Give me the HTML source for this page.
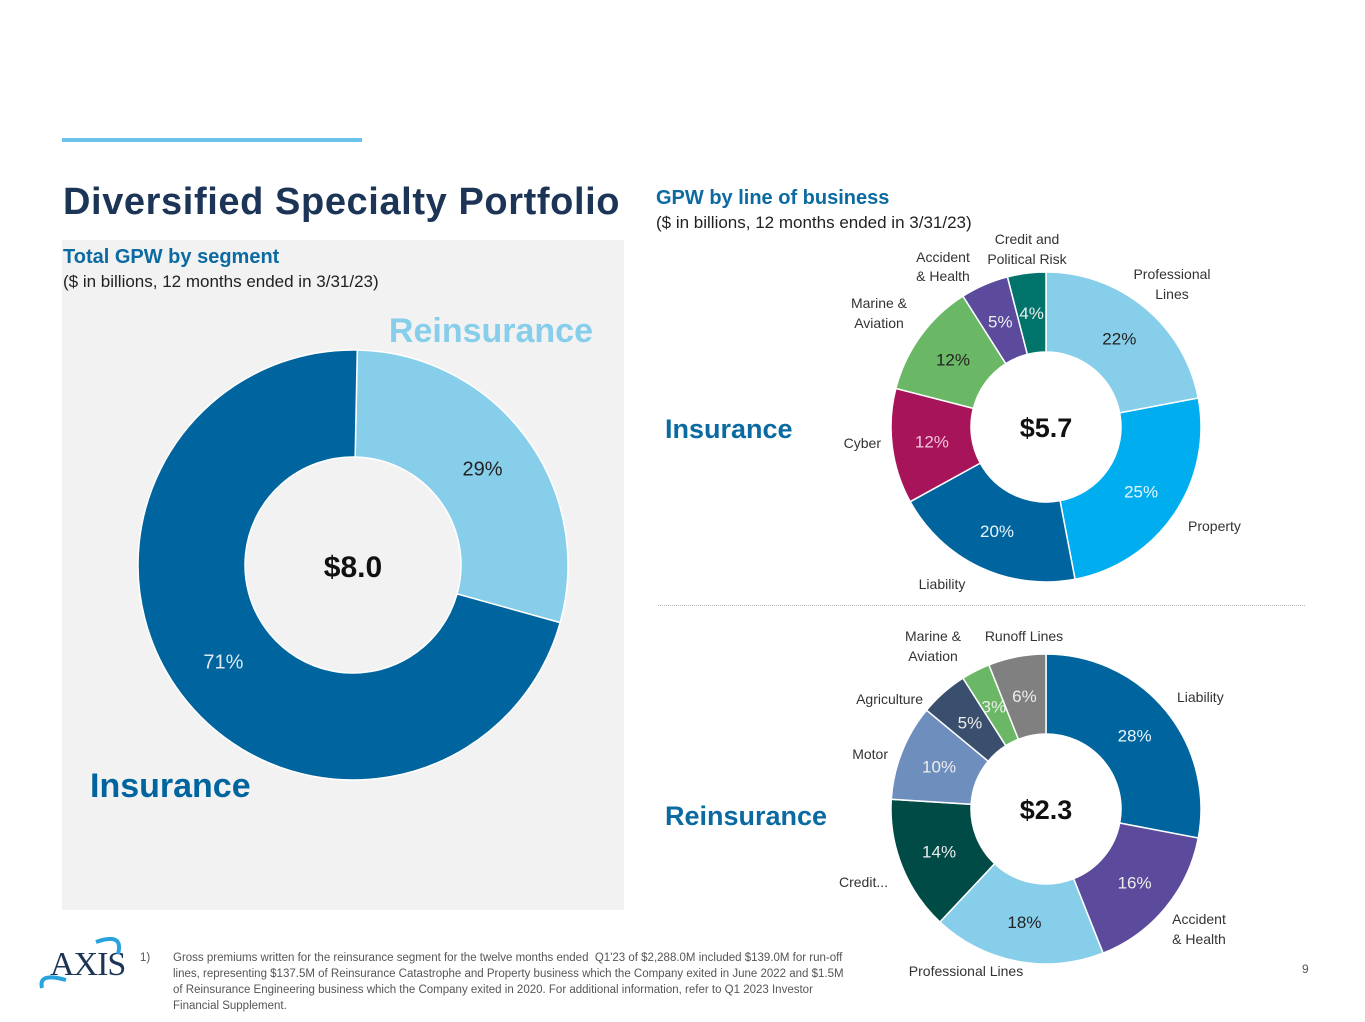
<!DOCTYPE html>
<html><head><meta charset="utf-8"><style>
body{margin:0;width:1365px;height:1022px;background:#fff;position:relative;overflow:hidden;font-family:"Liberation Sans",sans-serif}
.a{position:absolute;white-space:nowrap}
</style></head><body>
<div class="a" style="left:62px;top:138px;width:300px;height:4px;background:#6cc3ea"></div>
<div class="a" style="left:63px;top:181px;font-size:38px;font-weight:bold;color:#1c3557;letter-spacing:0.6px">Diversified Specialty Portfolio</div>
<div class="a" style="left:62px;top:240px;width:562px;height:670px;background:#f2f2f2"></div>
<div class="a" style="left:63px;top:246px;font-size:20px;font-weight:bold;color:#0a6aa1">Total GPW by segment</div>
<div class="a" style="left:63px;top:272px;font-size:17px;color:#222">($ in billions, 12 months ended in 3/31/23)</div>
<div class="a" style="left:656px;top:187px;font-size:20px;font-weight:bold;color:#0a6aa1">GPW by line of business</div>
<div class="a" style="left:656px;top:213px;font-size:17px;color:#222">($ in billions, 12 months ended in 3/31/23)</div>
<div class="a" style="left:658px;top:605px;width:647px;border-top:1px dotted #bbb"></div>
<svg class="a" style="left:0;top:0" width="1365" height="1022" id="svg"></svg>
<div class="a" style="left:140px;top:950px;font-size:11.5px;color:#555;line-height:16px">1)</div>
<div class="a" style="left:173px;top:950px;font-size:11.5px;color:#555;line-height:16px;white-space:normal;width:680px">Gross premiums written for the reinsurance segment for the twelve months ended &nbsp;Q1'23 of $2,288.0M included $139.0M for run-off lines, representing $137.5M of Reinsurance Catastrophe and Property business which the Company exited in June 2022 and $1.5M of Reinsurance Engineering business which the Company exited in 2020. For additional information, refer to Q1 2023 Investor Financial Supplement.</div>
<div class="a" style="left:1302px;top:962px;font-size:12px;color:#555">9</div>
<div class="a" style="left:50px;top:946px;font-family:'Liberation Serif',serif;font-size:34px;color:#1c3557;letter-spacing:-1px">AXIS</div>
<svg class="a" style="left:36px;top:932px" width="92" height="64"><path d="M6 56 Q2 40 30 48" stroke="#29a3dd" stroke-width="4" fill="none"/><path d="M60 10 Q88 0 82 22" stroke="#29a3dd" stroke-width="4" fill="none"/></svg>
<script>
const leftCats=["Reinsurance","Insurance"];
const leftVals=[29,71];
const insCats=["Professional Lines","Property","Liability","Cyber","Marine & Aviation","Accident & Health","Credit and Political Risk"];
const insVals=[22,25,20,12,12,5,4];
const reCats=["Liability","Accident & Health","Professional Lines","Credit...","Motor","Agriculture","Marine & Aviation","Runoff Lines"];
const reVals=[28,16,18,14,10,5,3,6];
const NS="http://www.w3.org/2000/svg";
const svg=document.getElementById('svg');
function el(t,a){const e=document.createElementNS(NS,t);for(const k in a)e.setAttribute(k,a[k]);svg.appendChild(e);return e;}
function donut(cx,cy,R,r,vals,cols,labCols,fs,name,start){
 const tot=vals.reduce((a,b)=>a+b,0);let a0=start||0;
 vals.forEach((v,i)=>{
  const a1=a0+v/tot*2*Math.PI;
  const p=(a,rr)=>[cx+rr*Math.sin(a),cy-rr*Math.cos(a)];
  const [x1,y1]=p(a0,R),[x2,y2]=p(a1,R),[x3,y3]=p(a1,r),[x4,y4]=p(a0,r);
  const lg=(a1-a0)>Math.PI?1:0;
  const path=el('path',{d:`M${x1},${y1}A${R},${R} 0 ${lg} 1 ${x2},${y2}L${x3},${y3}A${r},${r} 0 ${lg} 0 ${x4},${y4}Z`,fill:cols[i],stroke:'#fff','stroke-width':1.5});
  
  
  const [lx,ly]=p((a0+a1)/2,(R+r)/2);
  const t=el('text',{x:lx,y:ly+fs*0.35,'text-anchor':'middle','font-size':fs,fill:labCols[i],'font-family':'Liberation Sans, sans-serif'});
  t.textContent=v+'%';
  
  
  a0=a1;
 });
}
donut(353,565,215,108,leftVals,['#87ceeb','#00659e'],['#222','#dfe9f2'],20,'segment',0.02);
donut(1046,427,155,75,insVals,['#87ceeb','#00aeef','#00659e','#a8145a','#6ab866','#5c4a9c','#00746b'],['#222','#eaf6fd','#eaf6fd','#f0c8dc','#222','#eee','#eee'],17,'insurance',0);
donut(1046,809,155,75,reVals,['#00659e','#5c4a9c','#87ceeb','#004b45','#6e8fbd','#3a4e6e','#6ab866','#808080'],['#eaf6fd','#eee','#222','#eee','#eee','#eee','#eee','#eee'],17,'reinsurance',0);
function txt(x,y,s,fs,col,w,anchor,name){const t=el('text',{x:x,y:y,'font-size':fs,fill:col,'font-weight':w||'normal','text-anchor':anchor||'start','font-family':'Liberation Sans, sans-serif'});t.textContent=s;}
txt(353,577,'$8.0',30,'#111','bold','middle','left-total');
txt(1046,437,'$5.7',27,'#111','bold','middle','insurance-total');
txt(1046,819,'$2.3',27,'#111','bold','middle','reinsurance-total');
txt(593,342,'Reinsurance',34,'#87ceeb','bold','end','reinsurance-segment-label');
txt(90,797,'Insurance',34,'#00659e','bold','start','insurance-segment-label');
txt(665,438,'Insurance',27,'#0a6aa1','bold','start','insurance-row-label');
txt(665,825,'Reinsurance',27,'#0a6aa1','bold','start','reinsurance-row-label');
const cl=[[1172,279,'Professional','middle'],[1172,299,'Lines','middle'],[1188,531,'Property','start'],[942,589,'Liability','middle'],[881,448,'Cyber','end'],[879,308,'Marine &','middle'],[879,328,'Aviation','middle'],[943,262,'Accident','middle'],[943,281,'& Health','middle'],[1027,244,'Credit and','middle'],[1027,264,'Political Risk','middle'],
[1177,702,'Liability','start'],[1199,924,'Accident','middle'],[1199,944,'& Health','middle'],[966,976,'Professional Lines','middle'],[888,887,'Credit...','end'],[888,759,'Motor','end'],[923,704,'Agriculture','end'],[933,641,'Marine &','middle'],[933,661,'Aviation','middle'],[1024,641,'Runoff Lines','middle']];
cl.forEach((c,i)=>txt(c[0],c[1],c[2],14,'#333','normal',c[3],'category-label-'+i));
</script>
</body></html>
